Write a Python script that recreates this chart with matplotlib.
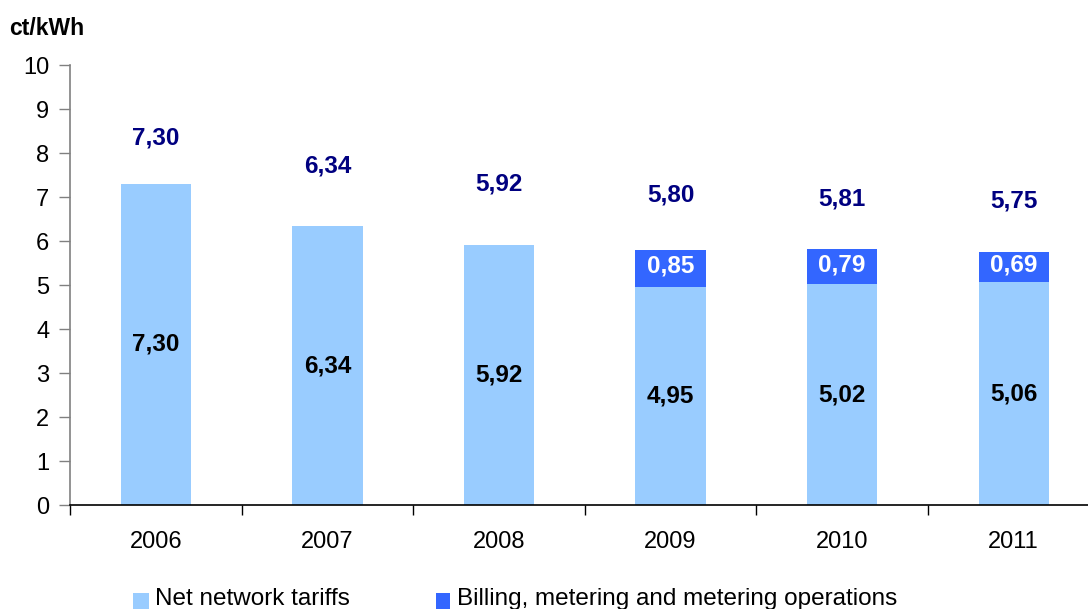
import matplotlib
matplotlib.use("Agg")
import matplotlib.pyplot as plt
from matplotlib.patches import Rectangle
import numpy as np

plt.rcParams['font.family'] = ['Liberation Sans', 'DejaVu Sans']

years = ["2006", "2007", "2008", "2009", "2010", "2011"]
net_tariffs = [7.30, 6.34, 5.92, 4.95, 5.02, 5.06]
billing = [0.0, 0.0, 0.0, 0.85, 0.79, 0.69]
totals = [7.30, 6.34, 5.92, 5.80, 5.81, 5.75]
# vertical placement of the total labels (data units), as in the original
total_label_y = [8.34, 7.70, 7.30, 7.05, 6.95, 6.91]

LIGHT = "#99CCFF"
DARK = "#3366FF"
NAVY = "#000080"

def fmt(v):
    return f"{v:.2f}".replace(".", ",")

W, H = 1088, 609
fig = plt.figure(figsize=(W / 100, H / 100), dpi=100)
ax = fig.add_axes([70 / W, 1 - 505 / H, 1029.5 / W, 440 / H])

x = np.arange(len(years))
bw = 0.41
ax.bar(x, net_tariffs, width=bw, color=LIGHT, zorder=2)
ax.bar(x, billing, width=bw, bottom=net_tariffs, color=DARK, zorder=2)

for i in range(len(years)):
    ax.text(x[i], net_tariffs[i] / 2, fmt(net_tariffs[i]), ha="center", va="center",
            fontsize=17.5, fontweight="bold", color="black")
    if billing[i] > 0:
        ax.text(x[i], net_tariffs[i] + billing[i] / 2 + 0.05, fmt(billing[i]), ha="center",
                va="center", fontsize=17.5, fontweight="bold", color="white")
    ax.text(x[i], total_label_y[i], fmt(totals[i]), ha="center", va="center",
            fontsize=17.5, fontweight="bold", color=NAVY)

ax.set_xlim(-0.5, len(years) - 0.5)
ax.set_ylim(0, 10)
ax.set_yticks(range(0, 11))
ax.set_xticks(x)
ax.set_xticklabels(years)
ax.set_xticks(np.arange(-0.5, len(years) - 0.4, 1.0), minor=True)
ax.tick_params(axis="x", which="major", length=0, pad=19, labelsize=17)
ax.tick_params(axis="x", which="minor", length=7, width=1, color="black", direction="out")
ax.tick_params(axis="y", length=8, width=1, color="#808080", direction="out", pad=7, labelsize=17)

for s in ("top", "right"):
    ax.spines[s].set_visible(False)
ax.spines["left"].set_color("#808080")
ax.spines["left"].set_linewidth(1.2)
ax.spines["bottom"].set_color("black")
ax.spines["bottom"].set_linewidth(1.2)

fig.text(9 / W, 1 - 35 / H, "ct/kWh", fontsize=16.5, fontweight="bold", va="baseline", ha="left")

# legend (cut at bottom edge like the original)
fig.patches.append(Rectangle((133 / W, 1 - 609 / H), 16 / W, 16 / H, transform=fig.transFigure,
                             facecolor=LIGHT, edgecolor="none"))
fig.text(155 / W, 1 - 588 / H, "Net network tariffs", fontsize=17.5, va="top", ha="left")
fig.patches.append(Rectangle((436 / W, 1 - 609 / H), 14 / W, 16 / H, transform=fig.transFigure,
                             facecolor=DARK, edgecolor="none"))
fig.text(457 / W, 1 - 588 / H, "Billing, metering and metering operations", fontsize=17.5,
         va="top", ha="left")

fig.savefig("out.png", dpi=100)
